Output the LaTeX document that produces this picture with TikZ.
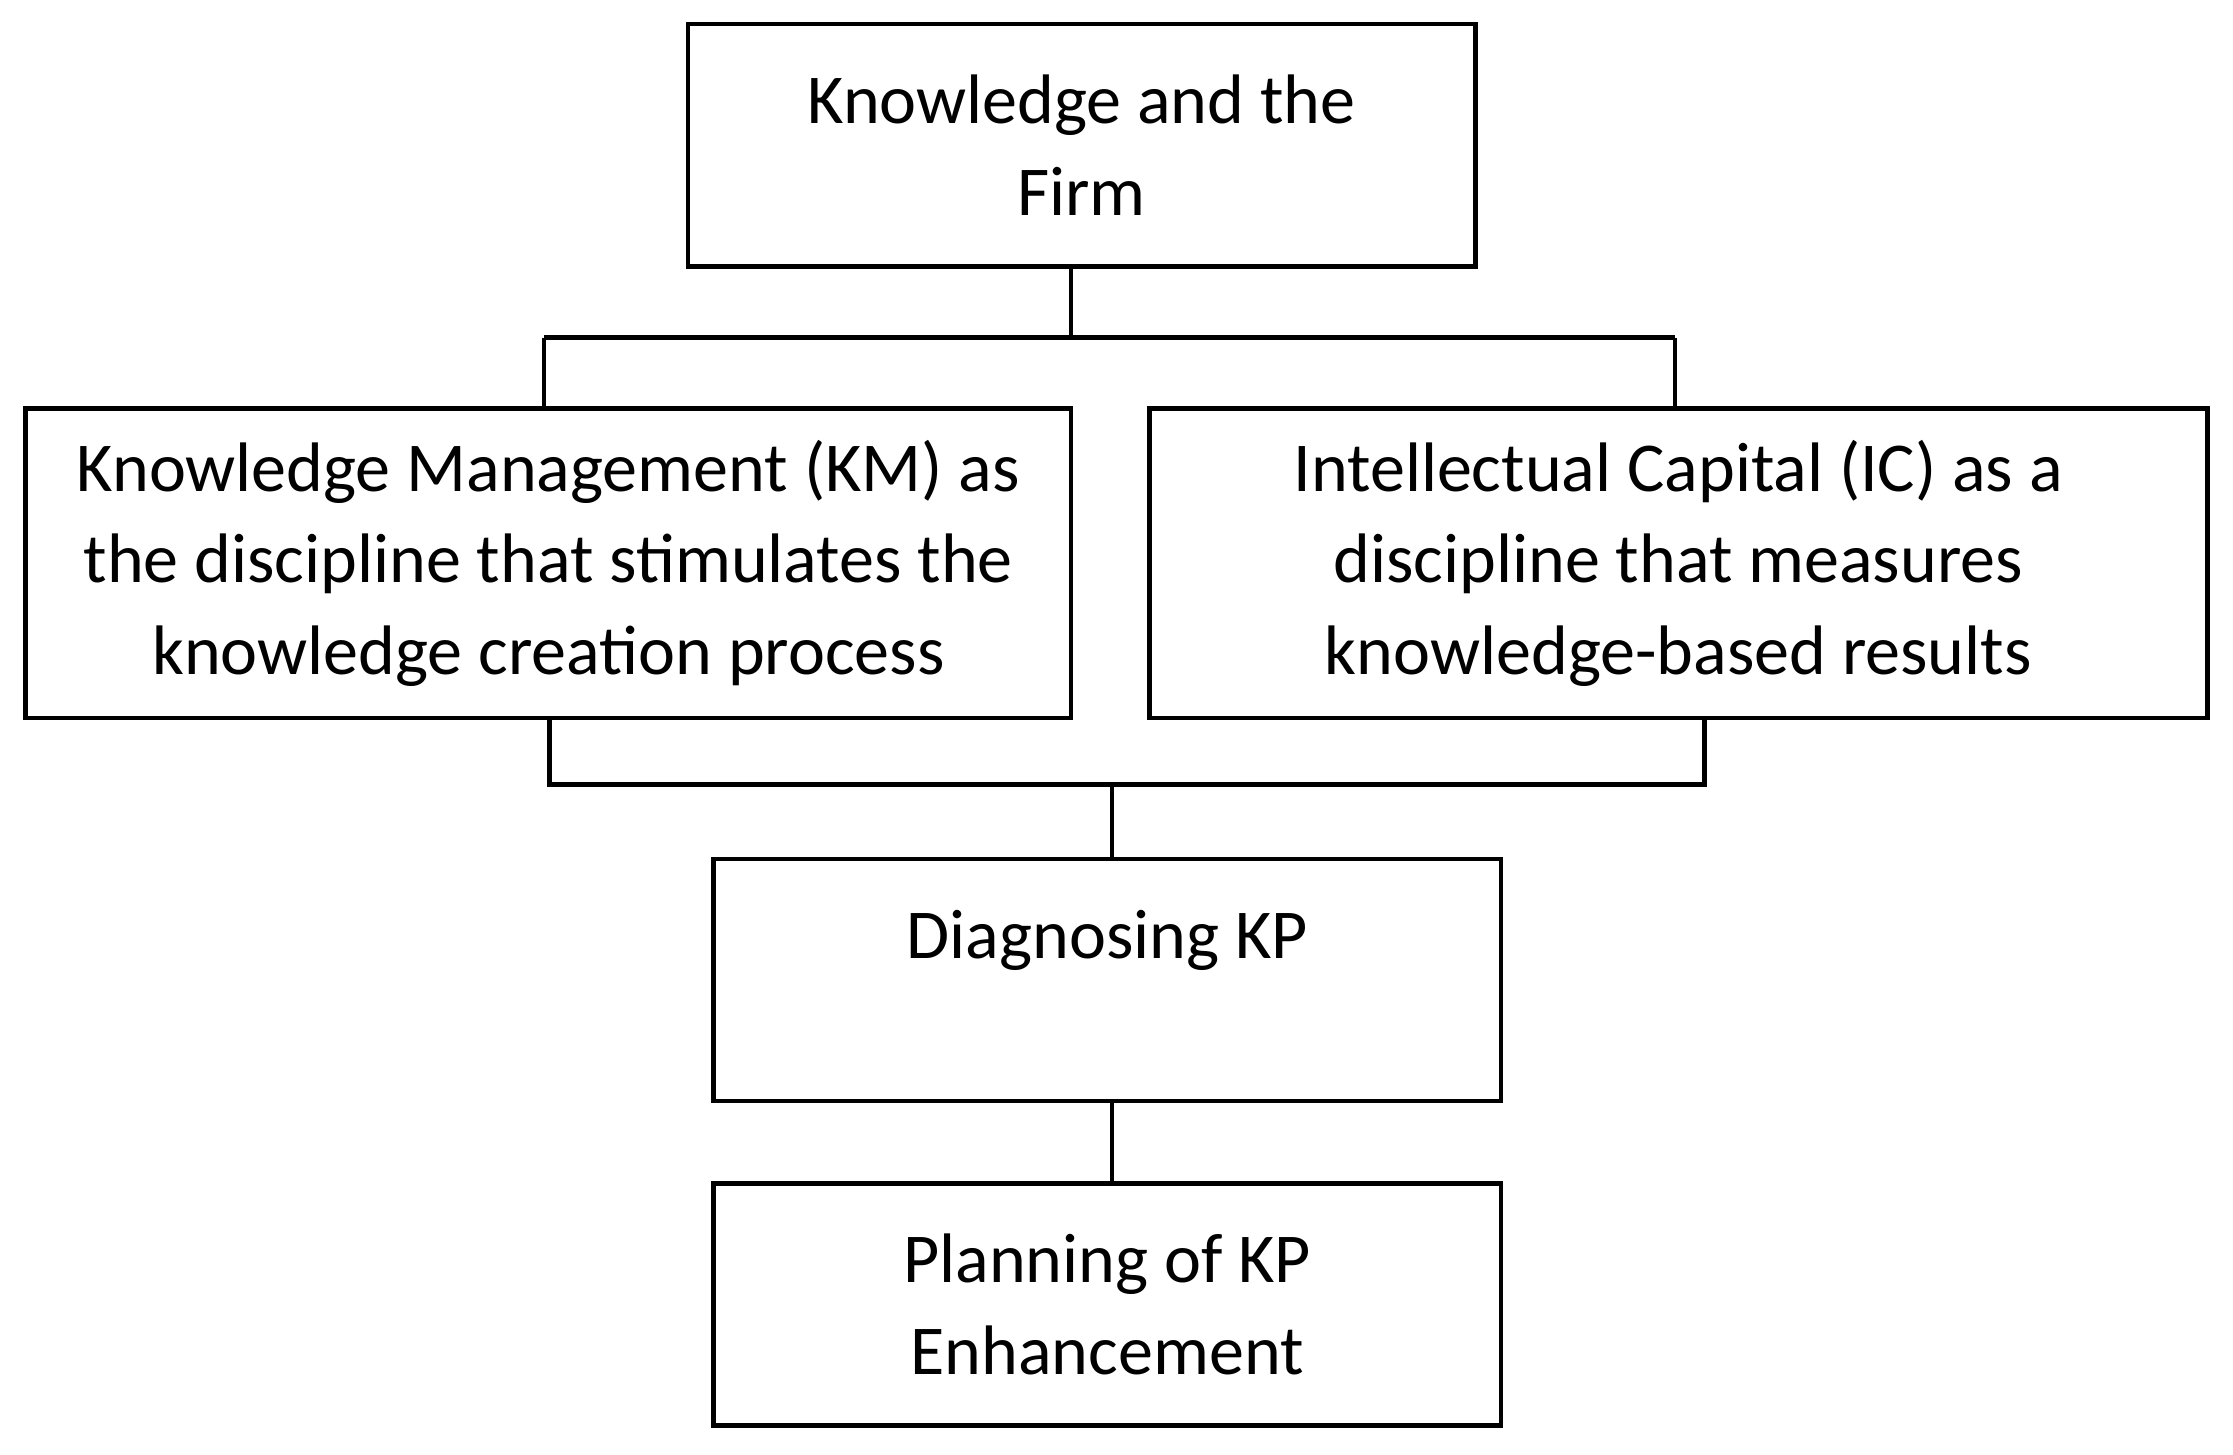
\documentclass[tikz,border=0pt]{standalone}
\usepackage{fontspec}
\setmainfont{Carlito}
\begin{document}
\begin{tikzpicture}[
    box/.style={draw, line width=0.9pt, align=center, inner sep=0pt,
      font=\fontsize{14}{18.3}\selectfont}]
        \useasboundingbox (0,0) rectangle (15.68,-10.21);
        \node[box, minimum width=5.53cm, minimum height=1.70cm] at (7.595,-1.02) (firm) {Knowledge and the\\Firm};
        \node[box, minimum width=7.34cm, minimum height=2.17cm] at (3.85,-3.955) (km) {Knowledge Management (KM) as\\the discipline that stimulates the\\knowledge creation process};
        \node[box, minimum width=7.43cm, minimum height=2.17cm] at (11.785,-3.955) (ic) {Intellectual Capital (IC) as a\\discipline that measures\\knowledge-based results};
        \node[box, minimum width=5.53cm, minimum height=1.70cm] at (7.775,-6.88) (diag) {Diagnosing KP\\[-0.2cm]\strut};
        \node[box, minimum width=5.53cm, minimum height=1.70cm] at (7.775,-9.16) (plan) {Planning of KP\\Enhancement};

        \coordinate (t1) at (7.52,-2.37);
        \coordinate (t2) at (3.82,-2.37);
        \coordinate (t3) at (11.76,-2.37);
        \coordinate (b1) at (3.86,-5.51);
        \coordinate (b2) at (11.97,-5.51);
        \coordinate (b3) at (7.81,-5.51);

        \draw[line width=0.9pt] (firm.south -| t1)--(t1);
        \draw[line width=0.9pt] (t2)--(t3);
        \draw[line width=0.9pt] (t2)--(km.north -| t2);
        \draw[line width=0.9pt] (t3)--(ic.north -| t3);
        \draw[line width=0.9pt] (km.south -| b1)--(b1)--(b2)--(ic.south -| b2);
        \draw[line width=0.9pt] (b3)--(diag.north -| b3);
        \draw[line width=0.9pt] (diag.south -| b3)--(plan.north -| b3);
      \end{tikzpicture}
\end{document}
